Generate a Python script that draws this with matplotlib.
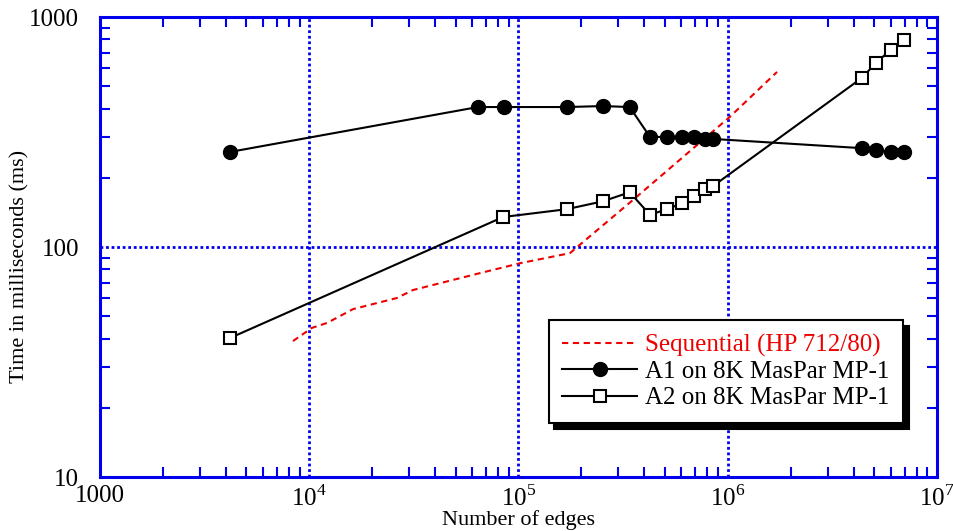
import numpy as np
import matplotlib
matplotlib.use('Agg')
import matplotlib.pyplot as plt
from matplotlib.patches import Shadow
from matplotlib.ticker import FixedLocator, FixedFormatter, LogLocator, NullFormatter

plt.rcParams['font.family'] = ['Liberation Serif', 'DejaVu Serif']
plt.rcParams['mathtext.fontset'] = 'custom'
plt.rcParams['mathtext.rm'] = 'Liberation Serif'

# data
edges_a1 = [4180, 64000, 85100, 170000, 253000, 340000, 425000, 512000, 604000,
            689000, 778000, 850000, 4.37e6, 5.1e6, 6.0e6, 6.93e6]
time_a1 = [259, 406, 406, 406, 410, 406, 301, 301, 301, 301, 295, 295,
           269, 264, 259, 259]

edges_a2 = [4180, 84400, 170000, 253000, 340000, 425000, 512000, 604000,
            689000, 778000, 850000, 4.37e6, 5.1e6, 6.0e6, 6.93e6]
time_a2 = [40.2, 135, 146, 158, 173, 138, 146, 155, 167, 179, 184,
           543, 631, 719, 794]

edges_seq = [8360, 10300, 12200, 16200, 26200, 31300, 65500, 101600, 176000,
             352000, 1.02e6, 1.72e6]
time_seq = [39, 44.5, 46.8, 53.7, 60, 65, 77, 85, 94, 160, 367, 577]

xticks = [1e3, 1e4, 1e5, 1e6, 1e7]
xtick_labels = ['1000', r'$10^4$', r'$10^5$', r'$10^6$', r'$10^7$']
yticks = [10, 100, 1000]
ytick_labels = ['10', '100', '1000']

blue = '#0000ee'

fig = plt.figure(figsize=(9.54, 5.31), dpi=100)
ax = fig.add_axes([100 / 954, 1 - 477 / 531, 837 / 954, 460 / 531])

ax.plot(edges_seq, time_seq, color='#ee0000', lw=1.5, dashes=(3, 2.2),
        label='Sequential (HP 712/80)')
ax.plot(edges_a1, time_a1, color='black', lw=1.5, marker='o', ms=10,
        label='A1 on 8K MasPar MP-1')
ax.plot(edges_a2, time_a2, color='black', lw=1.5, marker='s', ms=9,
        mfc='white', mew=1.5, label='A2 on 8K MasPar MP-1')

ax.set_xscale('log')
ax.set_yscale('log')
ax.set_xlim(1e3, 1e7)
ax.set_ylim(10, 1000)

ax.xaxis.set_major_locator(FixedLocator(xticks))
ax.xaxis.set_major_formatter(FixedFormatter(xtick_labels))
ax.yaxis.set_major_locator(FixedLocator(yticks))
ax.yaxis.set_major_formatter(FixedFormatter(ytick_labels))
for a in (ax.xaxis, ax.yaxis):
    a.set_minor_locator(LogLocator(base=10, subs=np.arange(2, 10)))
    a.set_minor_formatter(NullFormatter())

ax.tick_params(which='both', direction='in', colors=blue, top=True, right=True,
               labelcolor='black', labelsize=18)
ax.tick_params(which='major', length=0, width=1.5)
ax.tick_params(axis='x', which='major', pad=6)
ax.tick_params(axis='y', which='major', pad=15)
ax.tick_params(which='minor', length=7, width=1.5)

for s in ax.spines.values():
    s.set_color(blue)
    s.set_linewidth(2.2)

ax.grid(True, which='major', color=blue, ls=(0, (1, 1)), lw=2)

ax.set_xlabel('Number of edges', fontsize=16)
ax.xaxis.set_label_coords(0.5, -0.0717)
ax.set_ylabel('Time in milliseconds (ms)', fontsize=16)
ax.yaxis.set_label_coords(-0.084, 0.457)

leg = ax.legend(loc='upper left', bbox_to_anchor=(0.536, 0.341), fontsize=18,
                fancybox=False, framealpha=1, edgecolor='black',
                handlelength=3.0, handletextpad=0.3, labelspacing=0.15,
                borderpad=0.55, borderaxespad=0)
leg.get_frame().set_linewidth(1.5)
leg.get_texts()[0].set_color('#ee0000')

# thicker drop shadow than the built-in one
fig.canvas.draw()
shadow = Shadow(leg.legendPatch, 4, -4, color='black', alpha=1)
shadow.set_zorder(leg.get_zorder() - 0.1)
ax.add_artist(shadow)

fig.savefig('out.png', dpi=100)
